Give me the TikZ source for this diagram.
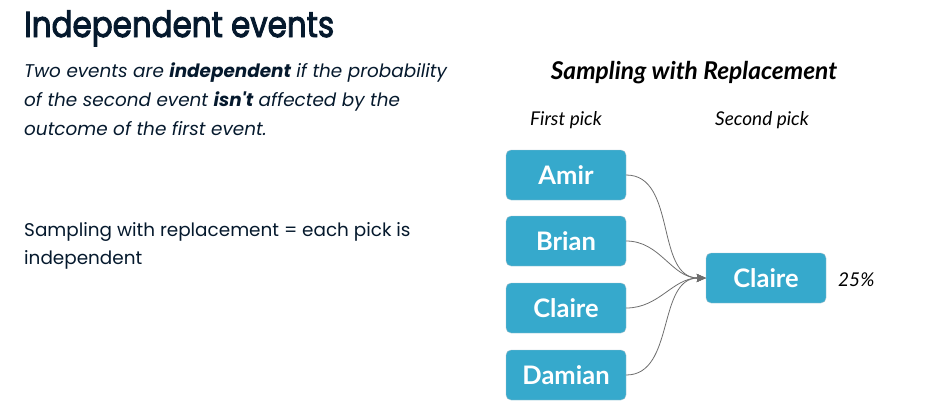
\documentclass[tikz,border=0pt]{standalone}
\usepackage{fontspec}
\setmainfont[Ligatures=TeXOff]{Poppins}
\newfontfamily\titlefont[FakeBold=2.6,FakeStretch=0.86]{Poppins}
\newfontfamily\latofont{Lato}
\usetikzlibrary{arrows.meta}
\tikzset{>={Stealth[length=9pt,width=8pt,inset=1pt]}}
\definecolor{navy}{HTML}{05192D}
\definecolor{pickblue}{HTML}{36A9CC}
\definecolor{pickrim}{HTML}{A9C3CC}
\definecolor{linkgray}{HTML}{6E6E6E}
\tikzset{
  pick/.style={draw=pickrim, fill=pickblue, rounded corners=5pt,
    minimum width=120pt, minimum height=50pt, inner sep=0pt,
    text=white, font=\latofont\bfseries\fontsize{25.5}{25.5}\selectfont},
  link/.style={->, draw=linkgray, line width=0.8pt},
  para/.style={anchor=base west, inner sep=0pt, text=navy},
  caption/.style={anchor=base, inner sep=0pt, font=\latofont\itshape\fontsize{19}{19}\selectfont}
}

\begin{document}
\begin{tikzpicture}[x=1pt,y=-1pt]
\useasboundingbox (0,0) rectangle (928,405);
% left column
\node[para, font=\titlefont\fontsize{36}{36}\selectfont] (title) at (24,37) {Independent events};
\node[para, font=\fontsize{18.4}{18.4}\selectfont\itshape] (def1) at (24,77) {Two events are \textbf{independent} if the probability};
\node[para, font=\fontsize{18.4}{18.4}\selectfont\itshape] (def2) at (24,106) {of the second event \textbf{isn't} affected by the};
\node[para, font=\fontsize{18.4}{18.4}\selectfont\itshape] (def3) at (24,135) {outcome of the first event.};
\node[para, font=\fontsize{18.4}{18.4}\selectfont] (rule1) at (24,236) {Sampling with replacement = each pick is};
\node[para, font=\fontsize{18.4}{18.4}\selectfont] (rule2) at (24,264) {independent};
% diagram
\node[anchor=base, inner sep=0pt, font=\latofont\bfseries\itshape\fontsize{24.5}{24.5}\selectfont] (heading) at (694,79) {Sampling with Replacement};
\node[caption] (first) at (566,125) {First pick};
\node[caption] (second) at (762,125) {Second pick};
\node[pick] (amir) at (566,175) {Amir};
\node[pick] (brian) at (566,241) {Brian};
\node[pick] (claireA) at (566,308) {Claire};
\node[pick] (damian) at (566,375) {Damian};
\node[pick] (claireB) at (766,278) {Claire};
\node[anchor=base west, inner sep=0pt, font=\latofont\itshape\fontsize{19}{19}\selectfont] (share) at (838,286) {25\%};
\foreach \n in {amir,brian,claireA,damian}
  \draw[link] (\n.east) to[out=0,in=180] (claireB.west);
\end{tikzpicture}
\end{document}
